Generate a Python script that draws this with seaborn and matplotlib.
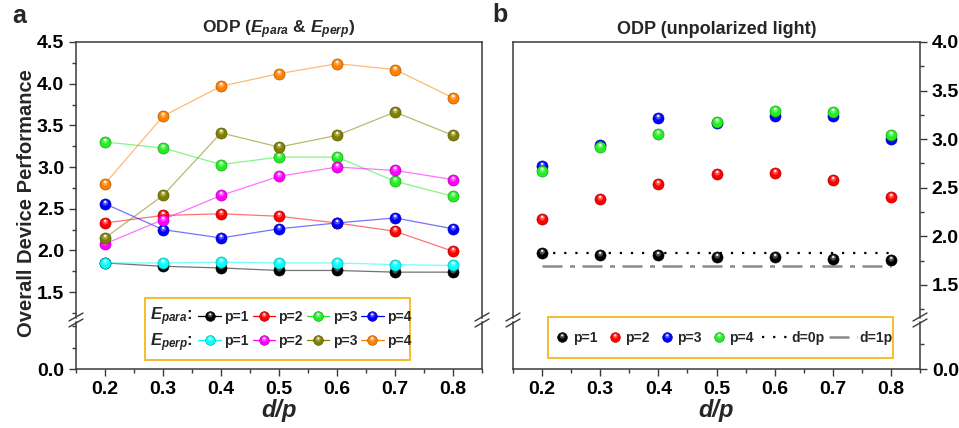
import matplotlib
matplotlib.use("Agg")
from matplotlib import pyplot as plt
from matplotlib.lines import Line2D
from matplotlib.patches import Rectangle
from matplotlib.path import Path
from matplotlib.legend_handler import HandlerTuple
from matplotlib.ticker import MultipleLocator, FixedLocator, FormatStrFormatter
import seaborn as sns

# d/p values on the x axis
dp = [0.2, 0.3, 0.4, 0.5, 0.6, 0.7, 0.8]

# panel a: E_para and E_perp
para_p1 = [1.85, 1.81, 1.79, 1.76, 1.76, 1.74, 1.74]
para_p2 = [2.33, 2.42, 2.44, 2.41, 2.33, 2.23, 1.99]
para_p3 = [3.30, 3.23, 3.03, 3.12, 3.12, 2.83, 2.65]
para_p4 = [2.56, 2.25, 2.15, 2.26, 2.33, 2.39, 2.26]
perp_p1 = [1.85, 1.85, 1.86, 1.85, 1.85, 1.83, 1.82]
perp_p2 = [2.08, 2.37, 2.66, 2.89, 3.00, 2.96, 2.85]
perp_p3 = [2.15, 2.66, 3.41, 3.24, 3.38, 3.66, 3.38]
perp_p4 = [2.80, 3.61, 3.97, 4.12, 4.24, 4.17, 3.83]

# panel b: unpolarized light
unpol_p1 = [1.83, 1.81, 1.81, 1.79, 1.79, 1.77, 1.76]
unpol_p2 = [2.18, 2.38, 2.54, 2.64, 2.65, 2.58, 2.40]
unpol_p3 = [2.72, 2.94, 3.22, 3.17, 3.24, 3.24, 3.00]
unpol_p4 = [2.67, 2.92, 3.05, 3.18, 3.29, 3.28, 3.04]
ref_d0p = [1.83, 1.83, 1.83, 1.83, 1.83, 1.83, 1.83]
ref_d1p = [1.70, 1.70, 1.70, 1.70, 1.70, 1.70, 1.70]

p_labels = ["p=1", "p=2", "p=3", "p=4"]
para_colors = ["#000000", "#ff0000", "#22ee22", "#0000ff"]
perp_colors = ["#00ffff", "#ff00ff", "#808000", "#ff8000"]
unpol_colors = ["#000000", "#ff0000", "#0000ff", "#22ee22"]
GOLD = "#f6b91c"

sns.set_theme(style="ticks")
plt.rcParams.update({
    "font.family": ["Liberation Sans", "DejaVu Sans"],
    "font.weight": "bold",
    "axes.labelweight": "bold",
    "axes.titleweight": "bold",
    "mathtext.fontset": "custom",
    "mathtext.it": "Liberation Sans:italic:bold",
    "mathtext.rm": "Liberation Sans:bold",
    "mathtext.bf": "Liberation Sans:bold",
    "axes.edgecolor": "#3a3a3a",
    "axes.linewidth": 1.1,
    "xtick.color": "#3a3a3a",
    "ytick.color": "#3a3a3a",
    "xtick.labelcolor": "black",
    "ytick.labelcolor": "black",
    "xtick.labelsize": 14,
    "ytick.labelsize": 14,
    "xtick.major.size": 5,
    "ytick.major.size": 5,
    "xtick.minor.size": 3,
    "ytick.minor.size": 3,
})

W, H = 959, 428
fig = plt.figure(figsize=(W / 100, H / 100), dpi=100)


def px_rect(x0, y0, x1, y1):
    return [x0 / W, 1 - y1 / H, (x1 - x0) / W, (y1 - y0) / H]


def px_pt(x, y):
    return (x / W, 1 - y / H)


# sphere look: soft and sharp highlight, as marker paths offset inside the dot
_pad = Path([[1, 0], [-1, 0], [0, 1], [0, -1]], [Path.MOVETO] * 4)
hl_soft = Path.make_compound_path(_pad, Path.circle(center=(-0.05, 0.3), radius=0.5))
hl_sharp = Path.make_compound_path(_pad, Path.circle(center=(-0.05, 0.45), radius=0.22))

MS = 8.0


def darker(c, f=0.6):
    rgb = matplotlib.colors.to_rgb(c)
    return tuple(v * f for v in rgb)


def draw_series(ax, y, color, z, line=True):
    if line:
        sns.lineplot(x=dp, y=y, ax=ax, color=color, lw=0.9, alpha=0.55, zorder=z)
    sns.scatterplot(x=dp, y=y, ax=ax, color=color, s=MS ** 2, edgecolor=darker(color),
                    linewidth=0.4, zorder=z + 0.3)
    sns.scatterplot(x=dp, y=y, ax=ax, color="white", marker=hl_soft, s=MS ** 2,
                    linewidth=0, alpha=0.3, zorder=z + 0.4)
    sns.scatterplot(x=dp, y=y, ax=ax, color="white", marker=hl_sharp, s=MS ** 2,
                    linewidth=0, alpha=0.9, zorder=z + 0.5)


def sphere_handle(color, line=True, ms=7.0):
    base = Line2D([], [], color=color, lw=0.9 if line else 0, ls="-" if line else "none",
                  marker="o", markersize=ms, markerfacecolor=color,
                  markeredgecolor=darker(color), markeredgewidth=0.4)
    soft = Line2D([], [], ls="none", marker=hl_soft, markersize=ms, markerfacecolor="white",
                  markeredgewidth=0, alpha=0.3)
    sharp = Line2D([], [], ls="none", marker=hl_sharp, markersize=ms, markerfacecolor="white",
                   markeredgewidth=0, alpha=0.9)
    return (base, soft, sharp)


def setup_pair(top, bot, ylim_top, ylim_bot, right_ticks, ymax_major):
    for ax in (top, bot):
        ax.set_xlim(0.15, 0.85)
        ax.set_xlabel("")
        ax.set_ylabel("")
        ax.tick_params(which="both", width=1.0)
        if right_ticks:
            ax.yaxis.tick_right()
            ax.tick_params(axis="y", which="both", left=False, right=True)
    top.set_ylim(*ylim_top)
    bot.set_ylim(*ylim_bot)
    top.spines["bottom"].set_visible(False)
    bot.spines["top"].set_visible(False)
    top.tick_params(axis="x", which="both", bottom=False, labelbottom=False)
    n_major = int(round((ymax_major - 1.5) / 0.5)) + 1
    top.yaxis.set_major_locator(FixedLocator([1.5 + 0.5 * i for i in range(n_major)]))
    top.yaxis.set_minor_locator(MultipleLocator(0.25))
    top.yaxis.set_major_formatter(FormatStrFormatter("%.1f"))
    bot.yaxis.set_major_locator(FixedLocator([0.0]))
    bot.yaxis.set_minor_locator(MultipleLocator(0.25))
    bot.yaxis.set_major_formatter(FormatStrFormatter("%.1f"))
    bot.xaxis.set_major_locator(FixedLocator(dp))
    bot.xaxis.set_minor_locator(MultipleLocator(0.05))
    bot.xaxis.set_major_formatter(FormatStrFormatter("%.1f"))
    bot.set_xlabel("d/p", fontsize=17, fontstyle="italic", labelpad=1)


def break_marks(x_px, y_px=320):
    for d in (-3, 3):
        fig.add_artist(Line2D([(x_px - 7) / W, (x_px + 7) / W],
                              [1 - (y_px + d + 4) / H, 1 - (y_px + d - 4) / H],
                              transform=fig.transFigure, color="#3a3a3a", lw=1.0))


def legend_box(x0, y0, x1, y1):
    fig.add_artist(Rectangle(px_pt(x0, y1), (x1 - x0) / W, (y1 - y0) / H,
                             transform=fig.transFigure, facecolor="white",
                             edgecolor=GOLD, lw=1.3, zorder=4))


tuple_map = {tuple: HandlerTuple(ndivide=1, pad=0)}
leg_kw = dict(loc="center", bbox_transform=fig.transFigure, handler_map=tuple_map,
              frameon=False, fontsize=10, borderpad=0, borderaxespad=0)

# ---- panel a ----
axa_top = fig.add_axes(px_rect(76, 42, 482, 318))
axa_bot = fig.add_axes(px_rect(76, 322, 482, 369))
para = [para_p1, para_p2, para_p3, para_p4]
perp = [perp_p1, perp_p2, perp_p3, perp_p4]
z = 2
for vals, c in zip(para, para_colors):
    draw_series(axa_top, vals, c, z)
    z += 1
for vals, c in zip(perp, perp_colors):
    draw_series(axa_top, vals, c, z)
    z += 1
setup_pair(axa_top, axa_bot, (1.19, 4.5), (0, 0.55), False, 4.5)
axa_top.set_title(r"ODP ($E_{para}$ & $E_{perp}$)", fontsize=12.5, pad=6)

legend_box(145, 298, 410, 360)
fig.text(*px_pt(150, 317), r"$E_{para}$:", fontsize=12, ha="left", va="center", zorder=6)
fig.text(*px_pt(150, 343), r"$E_{perp}$:", fontsize=12, ha="left", va="center", zorder=6)
handles, labels = [], []
for i in range(4):
    handles += [sphere_handle(para_colors[i]), sphere_handle(perp_colors[i])]
    labels += [p_labels[i], p_labels[i]]
fig.legend(handles, labels, ncol=4, bbox_to_anchor=px_pt(305, 329),
           handlelength=1.6, handletextpad=0.25, columnspacing=0.3, labelspacing=0.75,
           **leg_kw)

# ---- panel b ----
axb_top = fig.add_axes(px_rect(513, 42, 920, 318))
axb_bot = fig.add_axes(px_rect(513, 322, 920, 369))
sns.lineplot(x=dp, y=ref_d0p, ax=axb_top, color="black", lw=1.6, linestyle=(0, (1, 4)), zorder=2)
sns.lineplot(x=dp, y=ref_d1p, ax=axb_top, color="#8a8a8a", lw=1.8,
             linestyle=(0, (8, 3, 2, 3)), zorder=2)
unpol = [unpol_p1, unpol_p2, unpol_p3, unpol_p4]
z = 3
for vals, c in zip(unpol, unpol_colors):
    draw_series(axb_top, vals, c, z, line=False)
    z += 1
setup_pair(axb_top, axb_bot, (1.16, 4.0), (0, 0.47), True, 4.0)
axb_top.set_title("ODP (unpolarized light)", fontsize=13, pad=6)

legend_box(548, 317, 893, 358)
fig.legend([sphere_handle(c, line=False) for c in unpol_colors], p_labels, ncol=4,
           bbox_to_anchor=px_pt(655, 338), handlelength=0.9, handletextpad=0.3,
           columnspacing=0.8, **leg_kw)
fig.legend([Line2D([], [], color="black", lw=1.6, linestyle=(0, (1, 4))),
            Line2D([], [], color="#8a8a8a", lw=1.8, linestyle=(0, (8, 3, 2, 3)))],
           ["d=0p", "d=1p"], ncol=2, bbox_to_anchor=px_pt(827, 338),
           handlelength=2.0, handletextpad=0.15, columnspacing=0.3, **leg_kw)

for xp in (76, 482, 513, 920):
    break_marks(xp)

fig.text(27 / W, 1 - 203 / H, "Overall Device Performance", rotation=90,
         ha="center", va="center", fontsize=14.5)
fig.text(12 / W, 1 - 16 / H, "a", fontsize=18, va="center", ha="left")
fig.text(492 / W, 1 - 15 / H, "b", fontsize=18, va="center", ha="left")

fig.savefig("out.png", dpi=100)
